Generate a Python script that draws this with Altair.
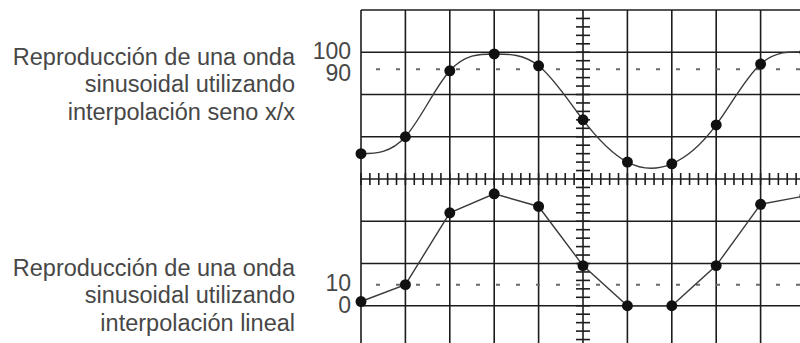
import altair as alt
import pandas as pd

# Sample positions (in grid divisions) and the two reconstructed waveforms
sample_idx = [0, 1, 2, 3, 4, 5, 6, 7, 8, 9, 10]
sinc_values = [40, 50, 89, 99, 92, 60, 35, 34, 57, 93, 100]
linear_values = [2, 10, 44, 53, 47, 19, 0, 0, 19, 48, 52]

top_caption = ["Reproducción de una onda", "sinusoidal utilizando", "interpolación seno x/x"]
bottom_caption = ["Reproducción de una onda", "sinusoidal utilizando", "interpolación lineal"]

top_tick_labels = [100, 90]
bottom_tick_labels = [10, 0]
top_reference = 90
bottom_reference = 10

# Layout of the graticule
PAD_LEFT, PAD_TOP = 361, 10
W, H = 800 - PAD_LEFT, 343 - PAD_TOP
DIV_X, DIV_Y = 44.4, 42.25
X_MAX = W / DIV_X
N_DIV = H / DIV_Y
TOP_STEP, TOP_MAX = 25, 125      # upper trace: 25 units per division
BOT_STEP, BOT_MAX = 20, 140      # lower trace: 20 units per division
CENTER_X = 5
CENTER_LEVEL = TOP_MAX - 4 * TOP_STEP

INK = "#1c1c1c"
TRACE = "#3a3a3a"
TEXT = "#474747"
FONT = "Liberation Sans"

x_scale = alt.Scale(domain=[0, X_MAX], nice=False, zero=False)
top_scale = alt.Scale(domain=[TOP_MAX - TOP_STEP * N_DIV, TOP_MAX], nice=False, zero=False)
bot_scale = alt.Scale(domain=[BOT_MAX - BOT_STEP * N_DIV, BOT_MAX], nice=False, zero=False)

wave = pd.DataFrame({"idx": sample_idx, "sinc": sinc_values, "lin": linear_values})

# Graticule
grid_v = alt.Chart(pd.DataFrame({"gx": list(range(0, 10))})).mark_rule(
    color=INK, strokeWidth=1.6
).encode(x=alt.X("gx:Q", scale=x_scale, axis=None))

grid_h = alt.Chart(pd.DataFrame({"gy": [TOP_MAX - TOP_STEP * k for k in range(0, 8)]})).mark_rule(
    color=INK, strokeWidth=1.6
).encode(y=alt.Y("gy:Q", scale=top_scale, axis=None))

# Minor ticks on the two centre axes
h_ticks = pd.DataFrame({"tx": [k / 5 for k in range(0, 50)], "lvl": CENTER_LEVEL})
ticks_h = alt.Chart(h_ticks).mark_tick(orient="vertical", size=12, thickness=1.6, color=INK, opacity=1).encode(
    x=alt.X("tx:Q", scale=x_scale, axis=None),
    y=alt.Y("lvl:Q", scale=top_scale, axis=None),
)

v_ticks = pd.DataFrame({"ty": [TOP_MAX - 5 * k for k in range(1, 40)], "cx": CENTER_X})
ticks_v = alt.Chart(v_ticks).mark_tick(orient="horizontal", size=14, thickness=1.6, color=INK, opacity=1).encode(
    x=alt.X("cx:Q", scale=x_scale, axis=None),
    y=alt.Y("ty:Q", scale=top_scale, axis=None),
)

# Dotted reference levels
ref_top = alt.Chart(pd.DataFrame({"level": [top_reference]})).mark_rule(
    color="#6a6a6a", strokeWidth=2, strokeDash=[4, 16]
).encode(y=alt.Y("level:Q", scale=top_scale, axis=None))

ref_bot = alt.Chart(pd.DataFrame({"level": [bottom_reference]})).mark_rule(
    color="#6a6a6a", strokeWidth=2, strokeDash=[4, 16]
).encode(y=alt.Y("level:Q", scale=bot_scale, axis=None))

# Traces
top_line = alt.Chart(wave).mark_line(interpolate="natural", color=TRACE, strokeWidth=1.4).encode(
    x=alt.X("idx:Q", scale=x_scale, axis=None),
    y=alt.Y("sinc:Q", scale=top_scale, axis=None),
)
top_pts = alt.Chart(wave).mark_circle(size=120, color="#111111", opacity=1).encode(
    x=alt.X("idx:Q", scale=x_scale, axis=None),
    y=alt.Y("sinc:Q", scale=top_scale, axis=None),
)
bot_line = alt.Chart(wave).mark_line(interpolate="linear", color=TRACE, strokeWidth=1.4).encode(
    x=alt.X("idx:Q", scale=x_scale, axis=None),
    y=alt.Y("lin:Q", scale=bot_scale, axis=None),
)
bot_pts = alt.Chart(wave).mark_circle(size=120, color="#111111", opacity=1).encode(
    x=alt.X("idx:Q", scale=x_scale, axis=None),
    y=alt.Y("lin:Q", scale=bot_scale, axis=None),
)


def tick_label(value, scale, dy):
    return alt.Chart(pd.DataFrame({"v": [value]})).mark_text(
        align="right", baseline="middle", fontSize=23, dy=dy, color=TEXT, font=FONT
    ).encode(
        x=alt.value(-10),
        y=alt.Y("v:Q", scale=scale, axis=None),
        text=alt.Text("v:Q"),
    )


def caption(lines, first_line_y):
    # y is the centre of the first line; further lines follow at lineHeight
    return alt.Chart(pd.DataFrame({"k": [0]})).mark_text(
        text=lines, align="right", baseline="middle", fontSize=23.5,
        lineHeight=27.5, color=TEXT, font=FONT
    ).encode(x=alt.value(-66), y=alt.value(first_line_y))


labels = [
    tick_label(top_tick_labels[0], top_scale, 0),
    tick_label(top_tick_labels[1], top_scale, 5),
    tick_label(bottom_tick_labels[0], bot_scale, -1),
    tick_label(bottom_tick_labels[1], bot_scale, 0),
]

chart = alt.layer(
    grid_v, grid_h, ticks_h, ticks_v, ref_top, ref_bot,
    top_line, bot_line, top_pts, bot_pts,
    *labels,
    caption(top_caption, 47.5),
    caption(bottom_caption, 258.5),
).resolve_scale(y="independent").properties(
    width=W,
    height=H,
    autosize=alt.AutoSizeParams(type="none"),
    padding={"left": PAD_LEFT, "top": PAD_TOP, "right": 0, "bottom": 0},
    background="white",
).configure_view(strokeWidth=0)

chart.save("out.html", embed_options={"renderer": "svg", "actions": False})
